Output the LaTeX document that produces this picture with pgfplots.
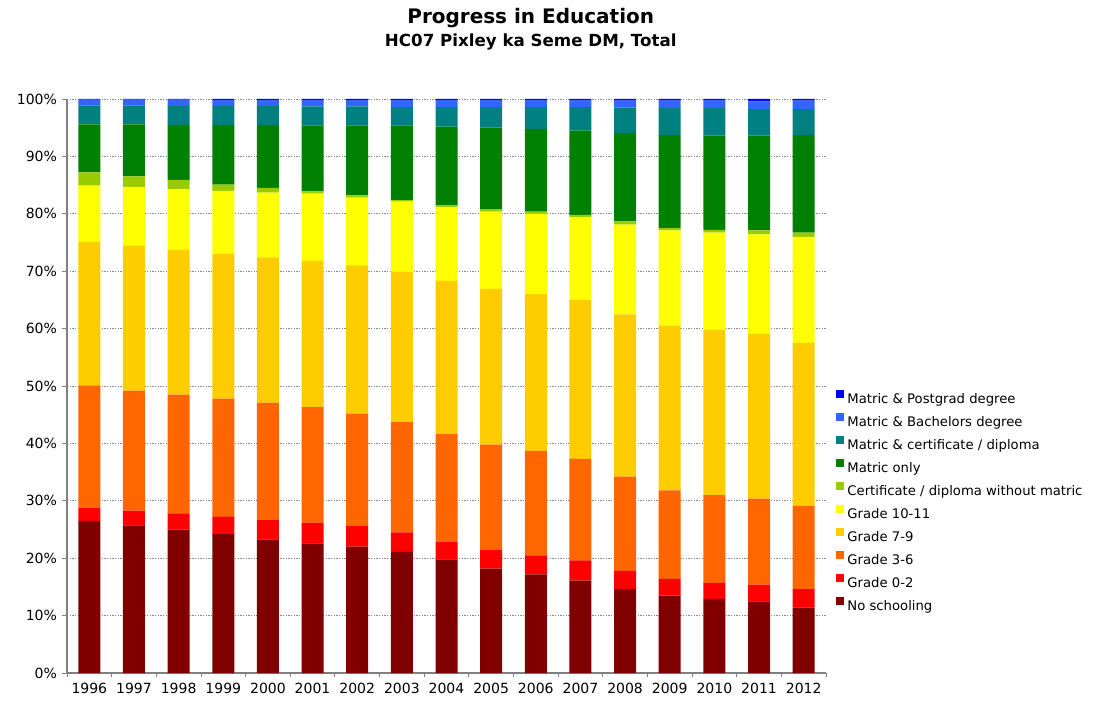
\documentclass[border=0pt]{standalone}
\usepackage{fontspec}
\setmainfont{DejaVu Sans}
\usepackage{pgfplots}
\usepackage{pgfplotstable}
\pgfplotsset{compat=1.18}

\definecolor{cNone}{HTML}{800000}
\definecolor{cG02}{HTML}{FF0000}
\definecolor{cG36}{HTML}{FF6600}
\definecolor{cG79}{HTML}{FFCC00}
\definecolor{cG1011}{HTML}{FFFF00}
\definecolor{cCert}{HTML}{99CC00}
\definecolor{cMatric}{HTML}{008000}
\definecolor{cMCert}{HTML}{008080}
\definecolor{cBach}{HTML}{3366FF}
\definecolor{cPost}{HTML}{0000FF}

% share of population (%), per year
\pgfplotstableread{
x  ns   g02 g36  g79  g1011 cert matric mcert bach pg
0  26.5 2.3 21.3 25.0 9.8   2.3  8.4    3.3   1.0  0.1
1  25.7 2.6 20.9 25.2 10.3  1.8  9.1    3.3   1.0  0.1
2  25.0 2.8 20.7 25.2 10.6  1.6  9.6    3.3   1.1  0.1
3  24.2 3.0 20.6 25.2 11.0  1.1  10.4   3.3   1.0  0.2
4  23.3 3.4 20.4 25.3 11.3  0.8  11.0   3.3   1.0  0.2
5  22.6 3.6 20.1 25.5 11.7  0.4  11.5   3.3   1.1  0.2
6  22.0 3.6 19.6 25.8 11.8  0.4  12.2   3.3   1.1  0.2
7  21.1 3.4 19.2 26.2 12.2  0.3  13.0   3.2   1.2  0.2
8  19.8 3.1 18.7 26.7 12.8  0.4  13.7   3.4   1.2  0.2
9  18.2 3.2 18.4 27.1 13.5  0.4  14.2   3.6   1.2  0.2
10 17.2 3.3 18.2 27.3 14.0  0.4  14.4   3.8   1.2  0.2
11 16.1 3.5 17.7 27.7 14.4  0.4  14.7   4.1   1.1  0.3
12 14.6 3.2 16.4 28.3 15.6  0.6  15.4   4.4   1.2  0.3
13 13.5 2.9 15.4 28.7 16.6  0.4  16.2   4.7   1.3  0.3
14 12.9 2.8 15.3 28.8 16.9  0.5  16.4   4.8   1.3  0.3
15 12.5 2.9 15.0 28.7 17.3  0.7  16.5   4.7   1.3  0.4
16 11.4 3.2 14.5 28.4 18.5  0.7  17.0   4.6   1.4  0.3
}\edu

\begin{document}
\begin{tikzpicture}
\begin{axis}[
  at={(0,0)}, anchor=south west,
  scale only axis,
  width=569.25pt, height=430.5pt,
  ybar stacked, bar width=16.5pt,
  xmin=-0.5, xmax=16.5, ymin=0, ymax=100,
  xtick={0,...,16},
  xticklabels={1996,1997,1998,1999,2000,2001,2002,2003,2004,2005,2006,2007,2008,2009,2010,2011,2012},
  minor xtick={-0.5,0.5,...,16.5},
  ytick={0,10,...,100},
  yticklabel={\pgfmathprintnumber{\tick}\%},
  /pgf/number format/assume math mode=true,
  ticklabel style={font=\fontsize{10.5}{12}\selectfont},
  axis x line*=bottom, axis y line*=left,
  axis line style={draw=black!50, line width=0.8pt},
  tick align=outside,
  major tick length=4pt, minor tick length=3pt,
  major x tick style={draw=none},
  ytick style={draw=black!50, line width=0.6pt},
  minor x tick style={draw=black!50, line width=0.6pt},
  ymajorgrids,
  grid style={black!45, dash pattern=on 1pt off 1pt, line width=0.6pt},
  title={{\fontsize{15}{16.5}\selectfont Progress in Education}\\[3.75pt]{\fontsize{12.5}{16.5}\selectfont HC07 Pixley ka Seme DM, Total}},
  title style={at={(0.611,1)}, anchor=south, yshift=30.25pt, align=center, font=\bfseries, inner sep=0pt},
  reverse legend,
  legend cell align=left,
  legend image code/.code={\fill[#1] (0pt,0.6pt) rectangle (6pt,6.6pt);},
  legend style={draw=none, fill=none, at={(1.013,0.499)}, anchor=north west,
    inner sep=0pt, row sep=0pt, column sep=2.5pt,
    font=\fontsize{9.9}{12}\selectfont,
    nodes={inner sep=0pt, text height=12.3pt, text depth=4.95pt}},
]
\addplot[fill=cNone, draw=none] table[x=x, y=ns] {\edu};
\addplot[fill=cG02, draw=none] table[x=x, y=g02] {\edu};
\addplot[fill=cG36, draw=none] table[x=x, y=g36] {\edu};
\addplot[fill=cG79, draw=none] table[x=x, y=g79] {\edu};
\addplot[fill=cG1011, draw=none] table[x=x, y=g1011] {\edu};
\addplot[fill=cCert, draw=none] table[x=x, y=cert] {\edu};
\addplot[fill=cMatric, draw=none] table[x=x, y=matric] {\edu};
\addplot[fill=cMCert, draw=none] table[x=x, y=mcert] {\edu};
\addplot[fill=cBach, draw=none] table[x=x, y=bach] {\edu};
\addplot[fill=cPost, draw=none] table[x=x, y=pg] {\edu};
\legend{No schooling, Grade 0-2, Grade 3-6, Grade 7-9, Grade 10-11,
  Certificate / diploma without matric, Matric only,
  Matric \& certificate / diploma, Matric \& Bachelors degree,
  Matric \& Postgrad degree}
\end{axis}
\pgfresetboundingbox
\useasboundingbox (-50.25pt,-21pt) rectangle (769.5pt,504.75pt);
\end{tikzpicture}
\end{document}
